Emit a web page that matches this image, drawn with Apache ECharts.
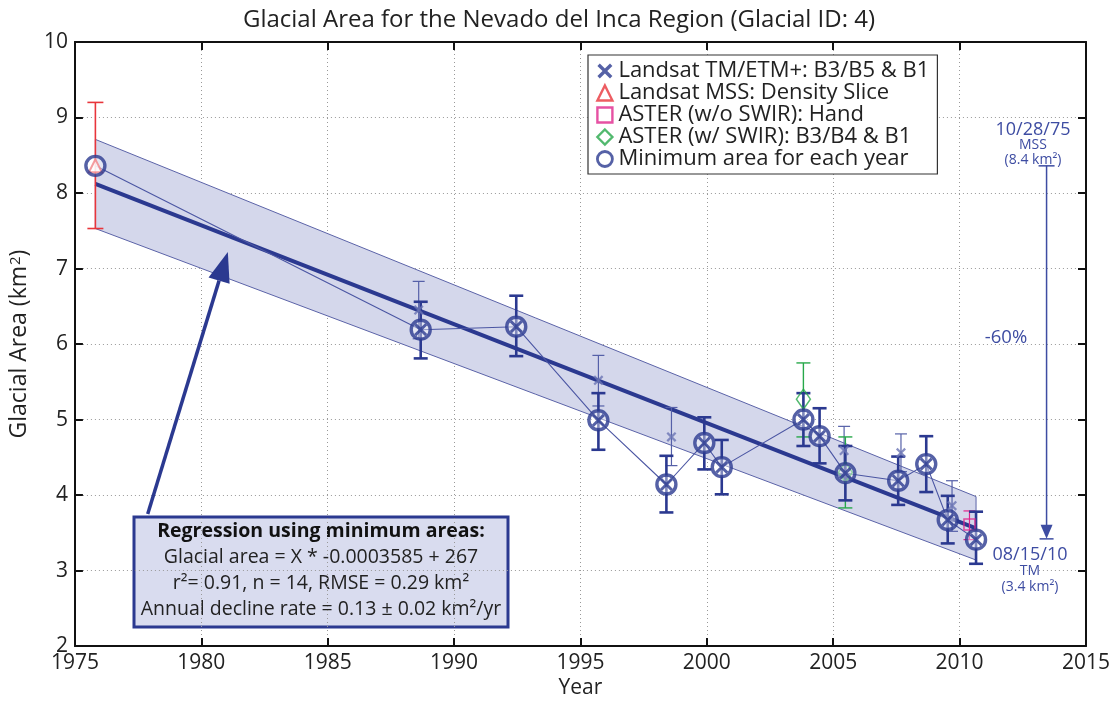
<!DOCTYPE html>
<html>
<head>
<meta charset="utf-8">
<script src="https://cdn.jsdelivr.net/npm/echarts@6/dist/echarts.min.js"></script>
<style>
  html, body { margin: 0; padding: 0; background: #fff; }
  #chart { width: 1118px; height: 704px; }
</style>
</head>
<body>
<div id="chart"></div>
<script>
// minimum area per year (circles), last 13 are Landsat TM
var minYears = [1975.81, 1988.68, 1992.46, 1995.71, 1998.40, 1999.90, 2000.59, 2003.82, 2004.46, 2005.48, 2007.57, 2008.68, 2009.53, 2010.65];
var minArea  = [8.36, 6.19, 6.23, 4.99, 4.14, 4.69, 4.37, 5.00, 4.78, 4.29, 4.19, 4.41, 3.67, 3.41];
var minLow   = [7.53, 5.81, 5.84, 4.60, 3.77, 4.34, 4.01, 4.65, 4.42, 3.93, 3.87, 4.04, 3.36, 3.09];
var minHigh  = [9.20, 6.56, 6.64, 5.35, 4.52, 5.03, 4.73, 5.35, 5.15, 4.65, 4.51, 4.78, 3.99, 3.78];

// other Landsat TM/ETM+ estimates (not minima)
var tmYears = [1988.60, 1995.71, 1998.60, 2005.43, 2007.68, 2009.70];
var tmArea  = [6.45, 5.52, 4.77, 4.59, 4.56, 3.86];
var tmLow   = [6.07, 5.18, 4.39, 4.28, 4.31, 3.52];
var tmHigh  = [6.83, 5.85, 5.16, 4.91, 4.81, 4.19];

// Landsat MSS
var mssYears = [1975.81];
var mssArea  = [8.36];
var mssLow   = [7.53];
var mssHigh  = [9.20];

// ASTER without SWIR (hand digitised)
var astHandYears = [2010.39];
var astHandArea  = [3.61];
var astHandLow   = [3.41];
var astHandHigh  = [3.79];

// ASTER with SWIR
var astSwirYears = [2003.82, 2005.48];
var astSwirArea  = [5.27, 4.30];
var astSwirLow   = [4.77, 3.83];
var astSwirHigh  = [5.75, 4.77];

// regression line and its confidence band
var regYears  = [1975.81, 2010.65];
var regArea   = [8.12, 3.56];
var bandUpper = [8.71, 3.98];
var bandLower = [7.53, 3.14];

// annotations
var changeYear = 2013.44;
var changeFrom = 8.36;
var changeTo   = 3.42;
var regArrowFrom = [1977.88, 3.75];
var regArrowTo   = [1981.05, 7.22];

var xTicks = { min: 1975, max: 2015, interval: 5 };
var yTicks = { min: 2, max: 10, interval: 1 };

var legendNames = [
  'Landsat TM/ETM+: B3/B5 & B1',
  'Landsat MSS: Density Slice',
  'ASTER (w/o SWIR): Hand',
  'ASTER (w/ SWIR): B3/B4 & B1',
  'Minimum area for each year'
];

var BLUE = '#2b3990';
var LBLUE = '#4b56a3';
var TBLUE = '#3d4ca2';
var RED = '#e8353b';
var MAG = '#e0258c';
var GREEN = '#27a84a';
var FONT = 'Open Sans';
var XPATH = 'path://M0,1.6 L1.6,0 L5,3.4 L8.4,0 L10,1.6 L6.6,5 L10,8.4 L8.4,10 L5,6.6 L1.6,10 L0,8.4 L3.4,5 Z';

function zip() {
  var args = arguments, out = [];
  for (var i = 0; i < args[0].length; i++) {
    var row = [];
    for (var j = 0; j < args.length; j++) row.push(args[j][i]);
    out.push(row);
  }
  return out;
}

function errorBars(name, data, color, width, cap, z) {
  return {
    type: 'custom', name: name, z: z, silent: true,
    data: data,
    encode: { x: 0, y: [1, 2] },
    renderItem: function (params, api) {
      var x = api.value(0);
      var lo = api.coord([x, api.value(1)]);
      var hi = api.coord([x, api.value(2)]);
      var st = { stroke: color, lineWidth: width };
      return { type: 'group', children: [
        { type: 'line', shape: { x1: lo[0], y1: lo[1], x2: hi[0], y2: hi[1] }, style: st },
        { type: 'line', shape: { x1: lo[0] - cap, y1: lo[1], x2: lo[0] + cap, y2: lo[1] }, style: st },
        { type: 'line', shape: { x1: hi[0] - cap, y1: hi[1], x2: hi[0] + cap, y2: hi[1] }, style: st }
      ]};
    }
  };
}

function annText(x, y, text, size) {
  return { type: 'text', x: x, y: y, z: 100,
    style: { text: text, fontFamily: FONT, fontSize: size, fill: TBLUE, align: 'center', verticalAlign: 'middle' } };
}

function boxText(y, text, bold) {
  return { type: 'text', x: 321, y: y,
    style: { text: text, fontFamily: FONT, fontSize: 19.5, fontWeight: bold ? 'bold' : 'normal',
      fill: bold ? '#111' : '#222', align: 'center', verticalAlign: 'middle' } };
}

var chart = echarts.init(document.getElementById('chart'));

var option = {
  backgroundColor: '#fff',
  animation: false,
  textStyle: { fontFamily: FONT },
  title: {
    text: 'Glacial Area for the Nevado del Inca Region (Glacial ID: 4)',
    left: 'center', top: 3,
    textStyle: { fontFamily: FONT, fontSize: 24, fontWeight: 'normal', color: '#222' }
  },
  grid: { left: 63.5, right: 32, top: 42, bottom: 54.7 },
  xAxis: [{
    type: 'value', min: xTicks.min, max: xTicks.max, interval: xTicks.interval,
    name: 'Year', nameLocation: 'middle', nameGap: 31,
    nameTextStyle: { fontFamily: FONT, fontSize: 21, color: '#222' },
    axisLine: { onZero: false, lineStyle: { color: '#111', width: 2 } },
    axisTick: { inside: true, length: 8, lineStyle: { color: '#111', width: 2 } },
    axisLabel: { fontFamily: FONT, fontSize: 21, color: '#222', margin: 6,
      formatter: function (v) { return String(v); } },
    splitLine: { show: true, lineStyle: { color: '#999', type: [1, 3], width: 1 } }
  }, {
    type: 'value', position: 'top', min: xTicks.min, max: xTicks.max, interval: xTicks.interval,
    axisLine: { onZero: false, lineStyle: { color: '#111', width: 2 } },
    axisTick: { inside: true, length: 8, lineStyle: { color: '#111', width: 2 } },
    axisLabel: { show: false }, splitLine: { show: false }
  }],
  yAxis: [{
    type: 'value', min: yTicks.min, max: yTicks.max, interval: yTicks.interval,
    name: 'Glacial Area (km{sup|2})', nameLocation: 'middle', nameGap: 38, nameRotate: 90,
    nameTextStyle: { fontFamily: FONT, fontSize: 23, color: '#222',
      rich: { sup: { fontFamily: FONT, fontSize: 15, color: '#222', verticalAlign: 'top', lineHeight: 14, padding: [0, 0, 10, 1] } } },
    axisLine: { onZero: false, lineStyle: { color: '#111', width: 2 } },
    axisTick: { inside: true, length: 8, lineStyle: { color: '#111', width: 2 } },
    axisLabel: { fontFamily: FONT, fontSize: 21, color: '#222', margin: 7 },
    splitLine: { show: true, lineStyle: { color: '#999', type: [1, 3], width: 1 } }
  }, {
    type: 'value', position: 'right', min: yTicks.min, max: yTicks.max, interval: yTicks.interval,
    axisLine: { onZero: false, lineStyle: { color: '#111', width: 2 } },
    axisTick: { inside: true, length: 8, lineStyle: { color: '#111', width: 2 } },
    axisLabel: { show: false }, splitLine: { show: false }
  }],
  legend: {
    orient: 'vertical', left: 588, top: 55,
    backgroundColor: '#fff', borderColor: '#333', borderWidth: 1.2, borderRadius: 0,
    padding: [5, 8, 4, 8],
    itemWidth: 15, itemHeight: 15, itemGap: 0,
    textStyle: { fontFamily: FONT, fontSize: 22, color: '#222', lineHeight: 20, padding: [0, 0, 0, 1] },
    data: [
      { name: legendNames[0], icon: XPATH, itemStyle: { color: BLUE, borderWidth: 0 } },
      { name: legendNames[1], icon: 'triangle', itemStyle: { color: '#fff', borderColor: RED, borderWidth: 2.4 } },
      { name: legendNames[2], icon: 'rect', itemStyle: { color: '#fff', borderColor: MAG, borderWidth: 2.4 } },
      { name: legendNames[3], icon: 'diamond', itemStyle: { color: '#fff', borderColor: GREEN, borderWidth: 2.4 } },
      { name: legendNames[4], icon: 'circle', itemStyle: { color: '#fff', borderColor: BLUE, borderWidth: 2.8 } }
    ]
  },
  series: [
    {
      type: 'custom', name: 'band', z: 1, silent: true,
      data: [[regYears[0], bandLower[0], bandUpper[0]]],
      renderItem: function (params, api) {
        var pts = [];
        for (var i = 0; i < regYears.length; i++) pts.push(api.coord([regYears[i], bandUpper[i]]));
        for (var k = regYears.length - 1; k >= 0; k--) pts.push(api.coord([regYears[k], bandLower[k]]));
        return { type: 'polygon', shape: { points: pts },
          style: { fill: '#d4d7eb', stroke: '#5b63a8', lineWidth: 1 } };
      }
    },
    {
      type: 'line', name: 'regression', z: 2, silent: true, symbol: 'none',
      data: zip(regYears, regArea),
      lineStyle: { color: BLUE, width: 4 }
    },
    {
      type: 'line', name: 'minLine', z: 3, silent: true, symbol: 'none',
      data: zip(minYears, minArea),
      lineStyle: { color: LBLUE, width: 1.1 }
    },
    errorBars('tmBars', zip(tmYears, tmLow, tmHigh), '#5560a8', 1.2, 6, 4),
    errorBars('mssBars', zip(mssYears, mssLow, mssHigh), RED, 1.6, 8, 4),
    errorBars('astHandBars', zip(astHandYears, astHandLow, astHandHigh), MAG, 1.2, 6, 4),
    errorBars('astSwirBars', zip(astSwirYears, astSwirLow, astSwirHigh), GREEN, 1.4, 7, 4),
    errorBars('minBars', zip(minYears.slice(1), minLow.slice(1), minHigh.slice(1)), BLUE, 2.6, 7, 5),
    {
      type: 'scatter', name: legendNames[1], z: 6, silent: true,
      data: zip(mssYears, mssArea), symbol: 'triangle', symbolSize: 13,
      itemStyle: { color: '#fff', borderColor: RED, borderWidth: 2 }
    },
    {
      type: 'scatter', name: legendNames[2], z: 6, silent: true,
      data: zip(astHandYears, astHandArea), symbol: 'rect', symbolSize: 11,
      itemStyle: { color: 'rgba(255,255,255,0)', borderColor: MAG, borderWidth: 1.5 }
    },
    {
      type: 'scatter', name: legendNames[3], z: 6, silent: true,
      data: zip(astSwirYears, astSwirArea), symbol: 'diamond', symbolSize: [14, 20],
      itemStyle: { color: 'rgba(255,255,255,0)', borderColor: GREEN, borderWidth: 1.5 }
    },
    {
      type: 'scatter', name: legendNames[4], z: 7, silent: true,
      data: zip(minYears, minArea), symbol: 'circle', symbolSize: 19,
      itemStyle: { color: 'rgba(255,255,255,0.5)', borderColor: BLUE, borderWidth: 3.4 }
    },
    {
      type: 'scatter', name: legendNames[0], z: 8, silent: true,
      data: zip(minYears.slice(1), minArea.slice(1)), symbol: XPATH, symbolSize: 13,
      itemStyle: { color: BLUE }
    },
    {
      type: 'scatter', name: legendNames[0], z: 8, silent: true,
      data: zip(tmYears, tmArea), symbol: XPATH, symbolSize: 10,
      itemStyle: { color: '#6a74b4' }
    },
    {
      // arrow from the regression box to the fit line
      type: 'custom', name: 'regArrow', z: 9, silent: true,
      data: [[regArrowFrom[0], regArrowFrom[1], regArrowTo[0], regArrowTo[1]]],
      renderItem: function (params, api) {
        var a = api.coord([api.value(0), api.value(1)]);
        var b = api.coord([api.value(2), api.value(3)]);
        var dx = b[0] - a[0], dy = b[1] - a[1], len = Math.sqrt(dx * dx + dy * dy);
        var ux = dx / len, uy = dy / len, hl = 30, hw = 11;
        var base = [b[0] - ux * hl, b[1] - uy * hl];
        return { type: 'group', children: [
          { type: 'line', shape: { x1: a[0], y1: a[1], x2: base[0], y2: base[1] },
            style: { stroke: BLUE, lineWidth: 3.5 } },
          { type: 'polygon', shape: { points: [b, [base[0] - uy * hw, base[1] + ux * hw], [base[0] + uy * hw, base[1] - ux * hw]] },
            style: { fill: BLUE } }
        ]};
      }
    },
    {
      // -60% change arrow on the right
      type: 'custom', name: 'changeArrow', z: 9, silent: true,
      data: [[changeYear, changeFrom, changeTo]],
      renderItem: function (params, api) {
        var a = api.coord([api.value(0), api.value(1)]);
        var b = api.coord([api.value(0), api.value(2)]);
        var st = { stroke: TBLUE, lineWidth: 1.5 };
        return { type: 'group', children: [
          { type: 'line', shape: { x1: a[0], y1: a[1], x2: b[0], y2: b[1] - 10 }, style: st },
          { type: 'line', shape: { x1: a[0] - 8, y1: a[1], x2: a[0] + 8, y2: a[1] }, style: st },
          { type: 'line', shape: { x1: b[0] - 7, y1: b[1], x2: b[0] + 7, y2: b[1] }, style: st },
          { type: 'polygon', shape: { points: [[b[0] - 6, b[1] - 14], [b[0] + 6, b[1] - 14], [b[0], b[1]]] },
            style: { fill: TBLUE } }
        ]};
      }
    }
  ],
  graphic: [
    {
      type: 'group', z: 100,
      children: [
        { type: 'rect', shape: { x: 134, y: 517, width: 374, height: 110 },
          style: { fill: '#d9dcef', stroke: BLUE, lineWidth: 3 } },
        boxText(531, 'Regression using minimum areas:', true),
        boxText(557, 'Glacial area = X * -0.0003585 + 267', false),
        boxText(583, 'r²= 0.91, n = 14, RMSE = 0.29 km²', false),
        boxText(609, 'Annual decline rate = 0.13 ± 0.02 km²/yr', false)
      ]
    },
    annText(1033, 130, '10/28/75', 18),
    annText(1033, 145, 'MSS', 14),
    annText(1033, 160, '(8.4 km²)', 14),
    annText(1006, 338, '-60%', 18.5),
    annText(1030, 555, '08/15/10', 18),
    annText(1030, 571, 'TM', 14),
    annText(1030, 587, '(3.4 km²)', 14)
  ]
};

chart.setOption(option);
window.onresize = function () { chart.resize(); };
</script>
</body>
</html>
